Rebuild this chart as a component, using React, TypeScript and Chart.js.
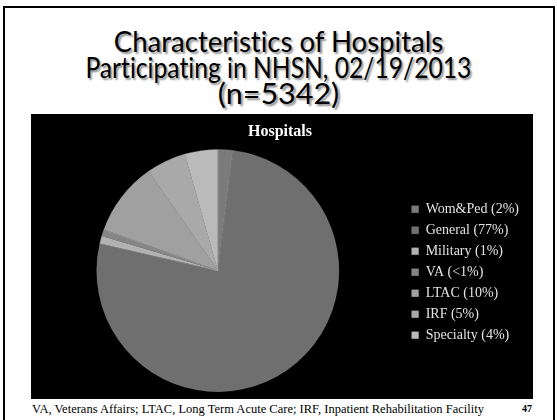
import React, { useEffect, useRef } from "react";
import { Chart, registerables } from "chart.js";

Chart.register(...registerables);

const categories = ["Wom&Ped (2%)", "General (77%)", "Military (1%)", "VA (<1%)", "LTAC (10%)", "IRF (5%)", "Specialty (4%)"];
const shares = [2.0, 76.6, 1.0, 0.9, 9.8, 5.3, 4.4];
const sliceColors = ["#7b7b7b", "#6f6f6f", "#b2b2b2", "#858585", "#a0a0a0", "#a9a9a9", "#bababa"];

const titleLines = ["Characteristics of Hospitals", "Participating in NHSN, 02/19/2013", "(n=5342)"];
const titleScales = [0.95, 0.85, 1.05];
const footnote = "VA, Veterans Affairs; LTAC, Long Term Acute Care; IRF, Inpatient Rehabilitation Facility";
const pageNumber = "47";

export default function App() {
  const canvasRef = useRef<HTMLCanvasElement | null>(null);

  useEffect(() => {
    document.body.style.margin = "0";
    const canvas = canvasRef.current;
    if (!canvas) return;
    const chart = new Chart(canvas, {
      type: "pie",
      data: {
        labels: categories,
        datasets: [
          {
            data: shares,
            backgroundColor: sliceColors,
            borderColor: "rgba(190,190,190,0.35)",
            borderWidth: 0.6,
          },
        ],
      },
      options: {
        responsive: false,
        animation: false,
        devicePixelRatio: 1,
        layout: { padding: { left: 0, right: 4, top: 0, bottom: 7 } },
        plugins: {
          title: {
            display: true,
            text: "Hospitals",
            color: "#ffffff",
            font: { family: "'Liberation Serif', serif", size: 16, weight: "bold" },
            padding: { top: 8, bottom: 8 },
          },
          legend: {
            position: "right",
            title: {
              display: true,
              text: " ",
              font: { size: 2 },
              padding: { top: 19, bottom: 17 },
            },
            labels: {
              boxWidth: 7,
              boxHeight: 7,
              padding: 7,
              color: "#e2e2e2",
              font: { family: "'Liberation Serif', serif", size: 14 },
            },
          },
          tooltip: { enabled: false },
        },
      },
    });
    return () => chart.destroy();
  }, []);

  return (
    <div style={{ position: "fixed", left: 0, top: 0, width: 557, height: 420, background: "#fff", overflow: "hidden" }}>
      <div
        style={{
          position: "absolute",
          left: 3,
          top: 6,
          width: 548,
          height: 440,
          border: "2px solid #000",
        }}
      />
      <div
        style={{
          position: "absolute",
          left: 0,
          top: 28,
          width: 557,
          textAlign: "center",
          fontFamily: "Lato, 'Open Sans', sans-serif",
          fontSize: 29,
          lineHeight: "26px",
          color: "#000",
          fontVariantLigatures: "none",
          textShadow: "2px 2px 2px rgba(0,0,0,0.45)",
        }}
      >
        {titleLines.map((t, i) => (
          <div key={i} style={{ transform: `scaleX(${titleScales[i]})`, transformOrigin: "278px 0" }}>
            {t}
          </div>
        ))}
      </div>
      <div style={{ position: "absolute", left: 31, top: 114, width: 502, height: 285, background: "#000" }}>
        <canvas ref={canvasRef} width={502} height={285} style={{ display: "block", width: 502, height: 285 }} />
      </div>
      <div
        style={{
          position: "absolute",
          left: 32,
          top: 402,
          fontFamily: "'Liberation Serif', serif",
          fontSize: 12.5,
          color: "#000",
          whiteSpace: "nowrap",
        }}
      >
        {footnote}
      </div>
      <div
        style={{
          position: "absolute",
          left: 522,
          top: 403,
          fontFamily: "'Liberation Serif', serif",
          fontSize: 10,
          fontWeight: "bold",
          color: "#000",
        }}
      >
        {pageNumber}
      </div>
    </div>
  );
}
